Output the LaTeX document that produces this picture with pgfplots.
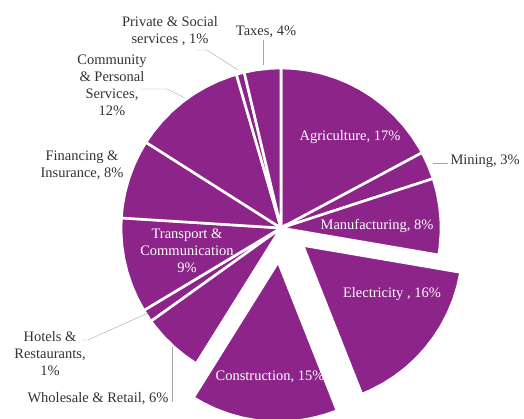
\documentclass[border=0pt]{standalone}
\usepackage{pgfplots}
\pgfplotsset{compat=1.18}
\usepackage{fontspec}
\setmainfont{Liberation Serif}

\definecolor{slice}{RGB}{141,36,137}
\definecolor{lbl}{RGB}{50,50,50}
\definecolor{leader}{RGB}{166,166,166}

\pgfplotsset{pie/.style={fill=slice, draw=white, line width=2.6pt, line join=miter, data cs=polar}}
\tikzset{
    lab/.style={font=\fontsize{14.5}{17}\selectfont, text=lbl, align=center},
    wlab/.style={font=\fontsize{14.5}{17}\selectfont, text=white, align=center},
}

\begin{document}
\begin{tikzpicture}
\useasboundingbox (0,0) rectangle (524pt,418pt);
\begin{axis}[
    at={(0,0)}, anchor=south west,
    width=524pt, height=418pt, scale only axis,
    xmin=-281, xmax=243, ymin=-190, ymax=228,
    hide axis, clip=true,
    every axis plot/.append style={no marks},
]
% slices: (angle, radius) clockwise from 12 o'clock
% Agriculture 17.2
\addplot[pie] coordinates {(0,0) (90,160) (85,160) (80,160) (75,160) (70,160) (65,160) (60,160) (55,160) (50,160) (45,160) (40,160) (35,160) (30,160) (28.1,160)} -- cycle;
% Mining 2.8
\addplot[pie] coordinates {(0,0) (28.1,160) (23,160) (18,160)} -- cycle;
% Manufacturing 7.7
\addplot[pie] coordinates {(0,0) (18,160) (13,160) (8,160) (3,160) (-2,160) (-7,160) (-9.7,160)} -- cycle;
% Electricity 16.3 (exploded)
\addplot[pie, xshift=21.9pt, yshift=-17.4pt] coordinates {(0,0) (-9.7,160) (-15,160) (-20,160) (-25,160) (-30,160) (-35,160) (-40,160) (-45,160) (-50,160) (-55,160) (-60,160) (-65,160) (-68.4,160)} -- cycle;
% Construction 14.9 (exploded)
\addplot[pie, xshift=-2.8pt, yshift=-33.9pt] coordinates {(0,0) (-68.4,160) (-73,160) (-78,160) (-83,160) (-88,160) (-93,160) (-98,160) (-103,160) (-108,160) (-113,160) (-118,160) (-122,160)} -- cycle;
% Wholesale & Retail 6.2
\addplot[pie] coordinates {(0,0) (-122,160) (-127,160) (-132,160) (-137,160) (-142,160) (-144.4,160)} -- cycle;
% Hotels & Restaurants 1.3
\addplot[pie] coordinates {(0,0) (-144.4,160) (-149,160)} -- cycle;
% Transport & Communication 9.6
\addplot[pie] coordinates {(0,0) (-149,160) (-154,160) (-159,160) (-164,160) (-169,160) (-174,160) (-179,160) (-183.6,160)} -- cycle;
% Financing & Insurance 8.0
\addplot[pie] coordinates {(0,0) (-183.6,160) (-188,160) (-193,160) (-198,160) (-203,160) (-208,160) (-212.4,160)} -- cycle;
% Community & Personal Services 11.5
\addplot[pie] coordinates {(0,0) (-212.4,160) (-217,160) (-222,160) (-227,160) (-232,160) (-237,160) (-242,160) (-247,160) (-252,160) (-253.8,160)} -- cycle;
% Private & Social services 0.8
\addplot[pie] coordinates {(0,0) (-253.8,160) (-256.7,160)} -- cycle;
% Taxes 3.7
\addplot[pie] coordinates {(0,0) (-256.7,160) (-261,160) (-266,160) (-270,160)} -- cycle;

% leader lines
\addplot[leader, thin] coordinates {(-18,188) (-18,163)};
\addplot[leader, thin] coordinates {(-84,178) (-74,178) (-43,158)};
\addplot[leader, thin] coordinates {(-141,139) (-114,139) (-96,130)};
\addplot[leader, thin] coordinates {(-199,-112) (-193,-112) (-133,-85)};
\addplot[leader, thin] coordinates {(-109,-119) (-109,-174)};
\addplot[leader, thin] coordinates {(152,65) (167,65)};

% labels
\node[wlab] at (axis cs:69,91) {Agriculture, 17\%};
\node[lab, anchor=west] at (axis cs:166,67) {Mining, 3\%};
\node[wlab] at (axis cs:96,2) {Manufacturing, 8\%};
\node[wlab] at (axis cs:111,-66) {Electricity , 16\%};
\node[wlab] at (axis cs:-11,-149) {Construction, 15\%};
\node[lab] at (axis cs:-183,-171) {Wholesale \& Retail, 6\%};
\node[lab] at (axis cs:-231,-126) {Hotels \&\\Restaurants,\\1\%};
\node[wlab] at (axis cs:-94,-23) {Transport \&\\Communication\\9\%};
\node[lab] at (axis cs:-199,63) {Financing \&\\Insurance, 8\%};
\node[lab] at (axis cs:-169,143) {Community\\\& Personal\\Services,\\12\%};
\node[lab] at (axis cs:-111,197) {Private \& Social\\services , 1\%};
\node[lab] at (axis cs:-15,196) {Taxes, 4\%};
\end{axis}
\end{tikzpicture}
\end{document}
